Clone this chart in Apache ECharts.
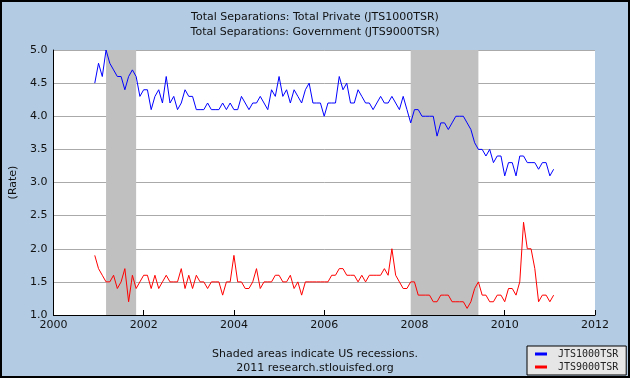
<!DOCTYPE html>
<html>
<head>
<meta charset="utf-8">
<script src="https://cdn.jsdelivr.net/npm/echarts@6/dist/echarts.min.js"></script>
<style>
html,body{margin:0;padding:0;background:#b3cce4;}
#c{width:630px;height:378px;}
</style>
</head>
<body>
<div id="c"></div>
<script>
// Monthly observations starting Dec 2000
const startYear = 2000, startMonth = 12;
const privateRate = [4.5,4.8,4.6,5.0,4.8,4.7,4.6,4.6,4.4,4.6,4.7,4.6,
4.3,4.4,4.4,4.1,4.3,4.4,4.2,4.6,4.2,4.3,4.1,4.2,
4.4,4.3,4.3,4.1,4.1,4.1,4.2,4.1,4.1,4.1,4.2,4.1,
4.2,4.1,4.1,4.3,4.2,4.1,4.2,4.2,4.3,4.2,4.1,4.4,
4.3,4.6,4.3,4.4,4.2,4.4,4.3,4.2,4.4,4.5,4.2,4.2,
4.2,4.0,4.2,4.2,4.2,4.6,4.4,4.5,4.2,4.2,4.4,4.3,
4.2,4.2,4.1,4.2,4.3,4.2,4.2,4.3,4.2,4.1,4.3,4.1,
3.9,4.1,4.1,4.0,4.0,4.0,4.0,3.7,3.9,3.9,3.8,3.9,
4.0,4.0,4.0,3.9,3.8,3.6,3.5,3.5,3.4,3.5,3.3,3.4,
3.4,3.1,3.3,3.3,3.1,3.4,3.4,3.3,3.3,3.3,3.2,3.3,
3.3,3.1,3.2];
const governmentRate = [1.9,1.7,1.6,1.5,1.5,1.6,1.4,1.5,1.7,1.2,1.6,1.4,
1.5,1.6,1.6,1.4,1.6,1.4,1.5,1.6,1.5,1.5,1.5,1.7,
1.4,1.6,1.4,1.6,1.5,1.5,1.4,1.5,1.5,1.5,1.3,1.5,
1.5,1.9,1.5,1.5,1.4,1.4,1.5,1.7,1.4,1.5,1.5,1.5,
1.6,1.6,1.5,1.5,1.6,1.4,1.5,1.3,1.5,1.5,1.5,1.5,
1.5,1.5,1.5,1.6,1.6,1.7,1.7,1.6,1.6,1.6,1.5,1.6,
1.5,1.6,1.6,1.6,1.6,1.7,1.6,2.0,1.6,1.5,1.4,1.4,
1.5,1.5,1.3,1.3,1.3,1.3,1.2,1.2,1.3,1.3,1.3,1.2,
1.2,1.2,1.2,1.1,1.2,1.4,1.5,1.3,1.3,1.2,1.2,1.3,
1.3,1.2,1.4,1.4,1.3,1.5,2.4,2.0,2.0,1.7,1.2,1.3,
1.3,1.2,1.3];
const seriesNames = ['JTS1000TSR','JTS9000TSR'];
const xTicks = [2000,2002,2004,2006,2008,2010,2012];
const recessions = [[2001+2/12, 2001+10/12],[2007+11/12, 2009+5/12]];

function toPoints(vals){
  return vals.map((v,i)=>[startYear + (startMonth-1)/12 + i/12, v]);
}
const font = 'DejaVu Sans';
const chart = echarts.init(document.getElementById('c'), null, {renderer:'canvas'});
chart.setOption({
  animation:false,
  backgroundColor:'#b3cce4',
  title:{
    text:'Total Separations: Total Private (JTS1000TSR)\nTotal Separations: Government (JTS9000TSR)',
    left:'center', top:5,
    textStyle:{fontFamily:font,fontSize:11,fontWeight:'normal',color:'#111',lineHeight:15}
  },
  grid:{left:51,right:35,top:50,bottom:63,containLabel:false,show:true,backgroundColor:'#ffffff',borderWidth:0},
  xAxis:{
    type:'value',min:2000,max:2012,interval:2,
    axisLine:{show:true,lineStyle:{color:'#000',width:1}},
    axisTick:{show:true,inside:true,length:5,lineStyle:{color:'#000'}},
    axisLabel:{fontFamily:font,fontSize:11,color:'#111',margin:5,formatter:v=>String(v)},
    splitLine:{show:false}
  },
  yAxis:{
    type:'value',min:1,max:5,interval:0.5,
    name:'(Rate)',nameLocation:'middle',nameGap:33,
    nameTextStyle:{fontFamily:font,fontSize:11,color:'#111'},
    axisLine:{show:true,lineStyle:{color:'#000',width:1}},
    axisTick:{show:false},
    axisLabel:{fontFamily:font,fontSize:11,color:'#111',margin:6,formatter:v=>v.toFixed(1)},
    splitLine:{show:true,lineStyle:{color:'#aaaaaa',width:1}}
  },
  legend:{
    orient:'vertical',left:527,top:346,
    data:seriesNames,
    backgroundColor:'#e6e6e6',borderColor:'#000',borderWidth:1,
    padding:[3,8,3,8],itemGap:3,itemWidth:12,itemHeight:3,icon:'rect',
    textStyle:{fontFamily:'DejaVu Sans Mono',fontSize:10,color:'#222',padding:[0,0,0,6]}
  },
  graphic:[
    {type:'text',left:'center',top:347,style:{text:'Shaded areas indicate US recessions.\n2011 research.stlouisfed.org',font:'11px DejaVu Sans',fill:'#111',textAlign:'center',lineHeight:14}},
    {type:'rect',shape:{x:0,y:0,width:630,height:378},style:{fill:'none',stroke:'#000',lineWidth:4},silent:true,z:100}
  ],
  series:[
    {type:'line',name:'recessions',data:[],z:1,silent:true,
     markArea:{silent:true,itemStyle:{color:'#c0c0c0'},
       data:recessions.map(r=>[{xAxis:r[0]},{xAxis:r[1]}])}},
    {type:'line',name:seriesNames[0],data:toPoints(privateRate),showSymbol:false,symbol:'none',z:3,
     lineStyle:{color:'#0000ff',width:1},itemStyle:{color:'#0000ff'}},
    {type:'line',name:seriesNames[1],data:toPoints(governmentRate),showSymbol:false,symbol:'none',z:3,
     lineStyle:{color:'#ff0000',width:1},itemStyle:{color:'#ff0000'}}
  ]
});
</script>
</body>
</html>
